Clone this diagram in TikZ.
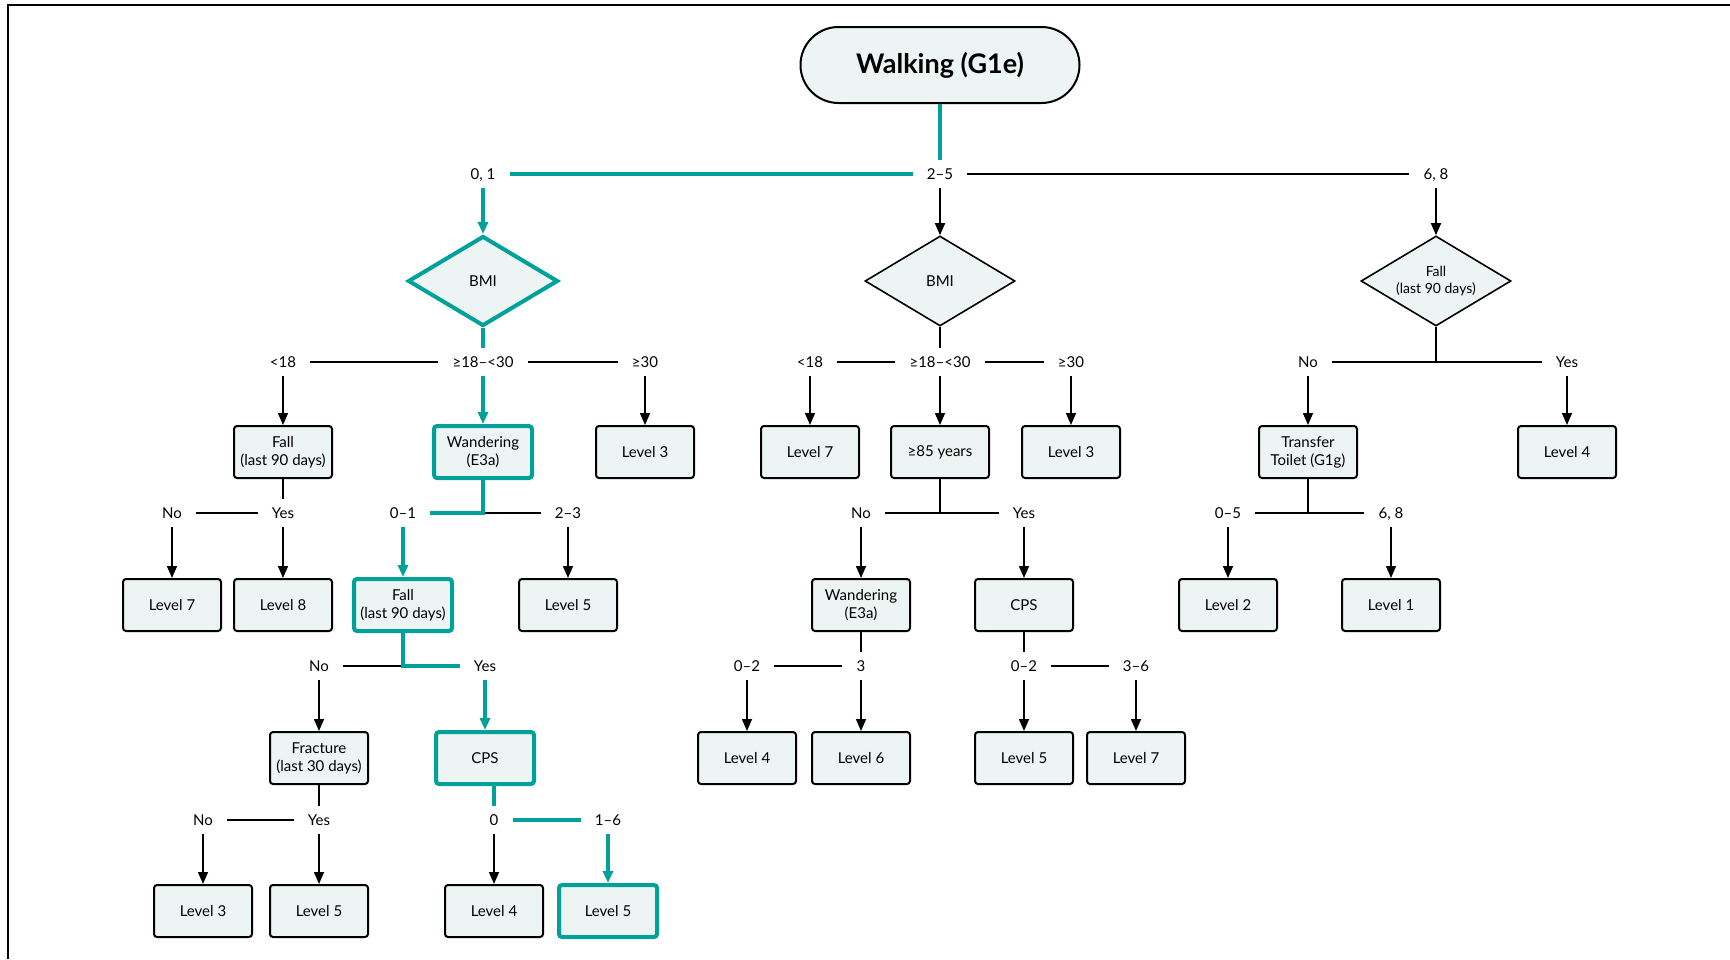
\documentclass[tikz,border=0pt]{standalone}
\usepackage{fontspec}
\setmainfont{Lato}
\usetikzlibrary{shapes.geometric,arrows.meta}
\definecolor{pathteal}{RGB}{0,161,154}
\definecolor{boxfill}{RGB}{236,245,243}

\begin{document}
\begin{tikzpicture}
  [x=0.5pt,y=-0.5pt,font=\fontsize{7.5}{9}\selectfont,
   lvl/.style={rectangle,draw,line width=1pt,rounded corners=1.5pt,fill=boxfill,
     minimum width=49pt,minimum height=26pt,align=center,inner sep=1pt},
   dec/.style={diamond,aspect=1.667,draw,line width=0.8pt,fill=boxfill,minimum width=75pt,
     minimum height=45pt,inner sep=0pt,align=center},
   lbl/.style={inner xsep=7pt,inner ysep=4pt,text height=5.4pt,text depth=0pt},
   hot/.style={draw=pathteal,line width=2pt},
   ln/.style={line width=0.75pt},
   arr/.style={ln,-{Triangle[length=6pt,width=5pt]}},
   harr/.style={hot,-{Triangle[length=6pt,width=5pt]}}]
  \useasboundingbox (0,0) rectangle (1730,959);
  \draw[line width=1pt] (8,959) -- (8,5) -- (1730,5);

  \node[lvl,rounded corners=19pt,minimum width=139.5pt,minimum height=38pt,
    font=\fontsize{13.5}{16}\selectfont\bfseries] (root) at (940,65) {Walking (G1e)};

  % first split
  \node[lbl] (a01) at (483,174) {0, 1};
  \node[lbl] (a25) at (940,174) {2–5};
  \node[lbl] (a68) at (1436,174) {6, 8};

  \node[dec,hot] (bmiL) at (483,281) {BMI};
  \node[dec] (bmiM) at (940,281) {BMI};
  \node[dec,font=\fontsize{7}{8.5}\selectfont] (fallR) at (1436,281) {Fall\\(last 90 days)};

  \node[lbl] (b1) at (283,362) {<18};
  \node[lbl] (b2) at (483,362) {≥18–<30};
  \node[lbl] (b3) at (645,362) {≥30};
  \node[lbl] (b4) at (810,362) {<18};
  \node[lbl] (b5) at (940,362) {≥18–<30};
  \node[lbl] (b6) at (1071,362) {≥30};
  \node[lbl] (b7) at (1308,362) {No};
  \node[lbl] (b8) at (1567,362) {Yes};
  \coordinate (jR) at (1436,362);

  \node[lvl] (c1) at (283,452) {Fall\\(last 90 days)};
  \node[lvl,hot] (c2) at (483,452) {Wandering\\(E3a)};
  \node[lvl] (c3) at (645,452) {Level 3};
  \node[lvl] (c4) at (810,452) {Level 7};
  \node[lvl] (c5) at (940,452) {≥85 years};
  \node[lvl] (c6) at (1071,452) {Level 3};
  \node[lvl] (c7) at (1308,452) {Transfer\\Toilet (G1g)};
  \node[lvl] (c8) at (1567,452) {Level 4};

  \node[lbl] (d1) at (172,513) {No};
  \node[lbl] (d2) at (283,513) {Yes};
  \node[lbl] (d3) at (403,513) {0–1};
  \node[lbl] (d4) at (568,513) {2–3};
  \node[lbl] (d5) at (861,513) {No};
  \node[lbl] (d6) at (1024,513) {Yes};
  \node[lbl] (d7) at (1228,513) {0–5};
  \node[lbl] (d8) at (1391,513) {6, 8};
  \coordinate (jW) at (483,513);
  \coordinate (jA) at (940,513);
  \coordinate (jT) at (1308,513);

  \node[lvl] (e1) at (172,605) {Level 7};
  \node[lvl] (e2) at (283,605) {Level 8};
  \node[lvl,hot] (e3) at (403,605) {Fall\\(last 90 days)};
  \node[lvl] (e4) at (568,605) {Level 5};
  \node[lvl] (e5) at (861,605) {Wandering\\(E3a)};
  \node[lvl] (e6) at (1024,605) {CPS};
  \node[lvl] (e7) at (1228,605) {Level 2};
  \node[lvl] (e8) at (1391,605) {Level 1};

  \node[lbl] (f1) at (319,666) {No};
  \node[lbl] (f2) at (485,666) {Yes};
  \node[lbl] (f3) at (747,666) {0–2};
  \node[lbl] (f4) at (861,666) {3};
  \node[lbl] (f5) at (1024,666) {0–2};
  \node[lbl] (f6) at (1136,666) {3–6};
  \coordinate (jF) at (403,666);

  \node[lvl] (g1) at (319,758) {Fracture\\(last 30 days)};
  \node[lvl,hot] (g2) at (485,758) {CPS};
  \node[lvl] (g3) at (747,758) {Level 4};
  \node[lvl] (g4) at (861,758) {Level 6};
  \node[lvl] (g5) at (1024,758) {Level 5};
  \node[lvl] (g6) at (1136,758) {Level 7};

  \node[lbl] (h1) at (203,820) {No};
  \node[lbl] (h2) at (319,820) {Yes};
  \node[lbl] (h3) at (494,820) {0};
  \node[lbl] (h4) at (608,820) {1–6};

  \node[lvl] (i1) at (203,911) {Level 3};
  \node[lvl] (i2) at (319,911) {Level 5};
  \node[lvl] (i3) at (494,911) {Level 4};
  \node[lvl,hot] (i4) at (608,911) {Level 5};

  % plain lines
  \foreach \from/\to in {a25/a68, b1/b2, b2/b3, bmiM/b5, b4/b5, b5/b6, fallR/jR, b7/b8,
      c1/d2, d1/d2, jW/d4, c5/jA, d5/d6, c7/jT, d7/d8, jF/f1,
      e5/f4, f3/f4, e6/f5, f5/f6, g1/h2, h1/h2}
    \draw[ln] (\from) -- (\to);

  % arrows
  \foreach \from/\to in {a25/bmiM, a68/fallR, b1/c1, b3/c3, b4/c4, b5/c5, b6/c6, b7/c7, b8/c8,
      d1/e1, d2/e2, d4/e4, d5/e5, d6/e6, d7/e7, d8/e8,
      f1/g1, f3/g3, f4/g4, f5/g5, f6/g6, h1/i1, h2/i2, h3/i3}
    \draw[arr] (\from) -- (\to);

  % the highlighted path
  \draw[hot] (root) -- (a25) -- (a01);
  \draw[hot] (bmiL) -- (b2);
  \draw[hot] (c2) -- (jW) -- (d3);
  \draw[hot] (e3) -- (jF) -- (f2);
  \draw[hot] (g2.south -| h3) -- (h3) -- (h4);
  \foreach \from/\to in {a01/bmiL, b2/c2, d3/e3, f2/g2, h4/i4}
    \draw[harr] (\from) -- (\to);

\end{tikzpicture}
\end{document}
